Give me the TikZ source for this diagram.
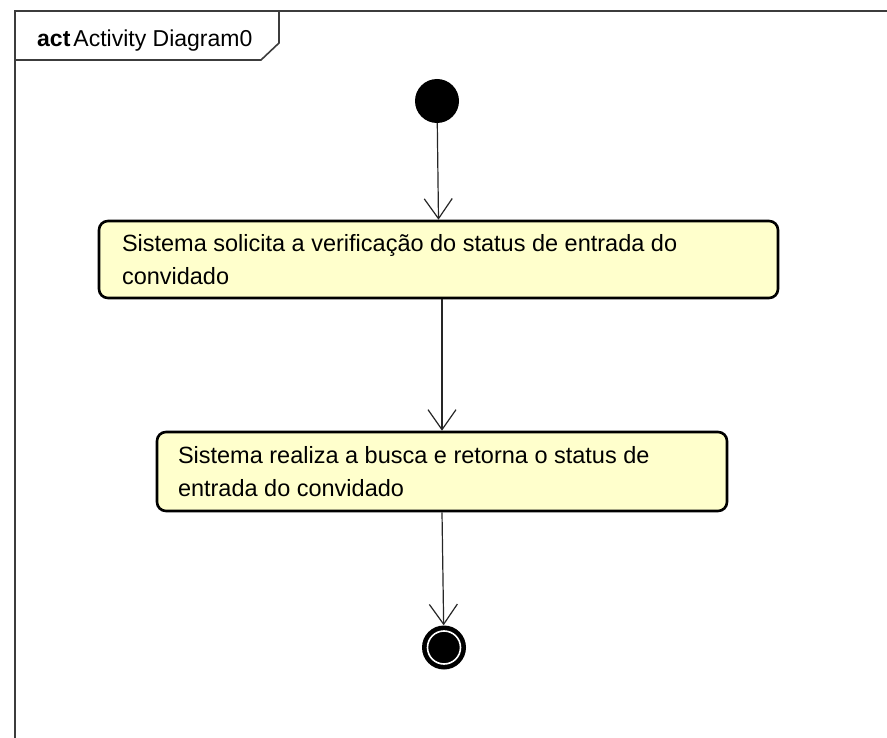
\documentclass[tikz,border=0pt]{standalone}
\usepackage{fontspec}
\setmainfont{Liberation Sans}
\usepackage{tikz}
\usetikzlibrary{arrows.meta}
\usetikzlibrary{positioning}

\definecolor{actfill}{RGB}{255,255,204}
\definecolor{framegray}{RGB}{60,60,60}

\begin{document}
\begin{tikzpicture}[x=1pt, y=-1pt,
        action/.style={rectangle, rounded corners=9pt, draw=black, line width=2.6pt, fill=actfill,
            inner xsep=0pt, inner ysep=0pt, align=left, font=\fontsize{23.5}{33}\selectfont},
        flow/.style={-{Straight Barb[length=20pt, width=28pt]}, line width=1.2pt, draw=black!85},
        initial/.style={circle, fill=black, minimum size=44pt, inner sep=0pt}]
    \useasboundingbox (0,0) rectangle (887,738);
    % frame with its name tab
    \draw[framegray, line width=1.6pt] (15,738) -- (15,11) -- (887,11);
    \draw[framegray, line width=1.6pt] (15,60) -- (261,60) -- (279,43) -- (279,11);
    \node[anchor=base west, inner sep=0pt, font=\fontsize{23}{28}\selectfont] (title) at (37,47)
        {\textbf{act}\hspace{3pt}Activity Diagram0};

    \node[initial] (start) at (437,101) {};
    \node[action, minimum width=679pt, minimum height=77pt] (chk) at (438.5,259.5)
        {\parbox{633pt}{Sistema solicita a verificação do status de entrada do\\convidado}};
    \node[action, minimum width=570pt, minimum height=79pt] (srch) at (442,471.5)
        {\parbox{528pt}{Sistema realiza a busca e retorna o status de\\entrada do convidado}};
    \node[initial] (final) at (444,647.5) {};
    \draw[white, line width=1.6pt] (final) circle (16.5pt);

    \draw[flow] (start) -- (chk.north);
    \draw[flow] (chk.south -| srch.north) -- (srch.north);
    \draw[flow] (srch.south) -- (final);
\end{tikzpicture}
\end{document}
